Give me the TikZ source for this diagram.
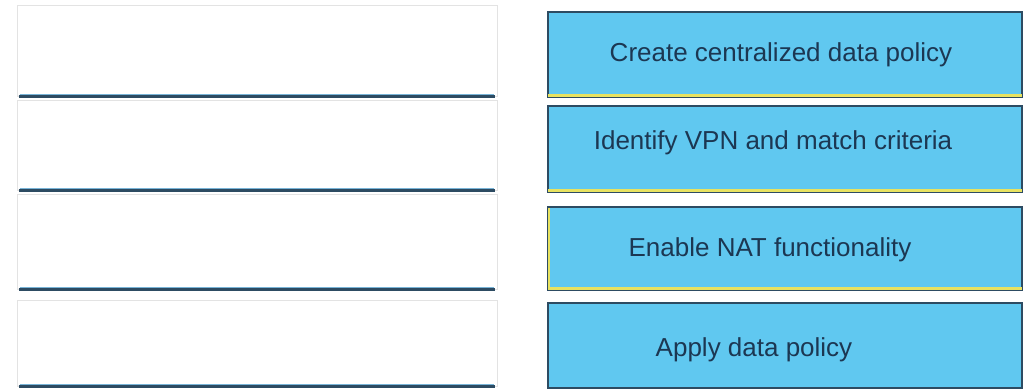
\documentclass[tikz,border=0pt]{standalone}
\usepackage{fontspec}
\setmainfont{Liberation Sans}
\definecolor{boxfill}{RGB}{96,200,240}
\definecolor{boxedge}{RGB}{45,75,98}
\definecolor{txt}{RGB}{28,55,82}
\definecolor{ylw}{RGB}{232,226,96}
\definecolor{barlight}{RGB}{120,180,215}
\begin{document}
\begin{tikzpicture}[x=1pt,y=-1pt,
  slot/.style={draw=gray!22,line width=0.6pt,fill=white,minimum width=480pt,inner sep=0pt},
  item/.style={draw=boxedge,line width=1.4pt,fill=boxfill,minimum width=474pt,inner sep=0pt},
  lbl/.style={text=txt,font=\fontsize{26}{30}\selectfont},
  bar/.style={line width=3.5pt,draw=boxedge},
  ybar/.style={line width=3pt,draw=ylw}]
\fill[white] (0,0) rectangle (1026,390);
\useasboundingbox (0,0) rectangle (1026,390);
% left slots
\node[slot,minimum height=91pt] (s1) at (257,50.5) {};
\node[slot,minimum height=90pt] (s2) at (257,145) {};
\node[slot,minimum height=95pt] (s3) at (257,241.5) {};
\node[slot,minimum height=86pt] (s4) at (257,343) {};
\foreach \s in {s1,s2,s3,s4}{
  \draw[bar] ([xshift=2pt]\s.south west) -- ([xshift=-2pt]\s.south east);
  \draw[line width=1pt,draw=barlight] ([xshift=3pt,yshift=2pt]\s.south west) -- ([xshift=-3pt,yshift=2pt]\s.south east);
}
% right boxes
\node[item,minimum height=85pt] (b1) at (785,54.5) {};
\node[item,minimum height=86pt] (b2) at (785,149) {};
\node[item,minimum height=83pt] (b3) at (785,248.5) {};
\node[item,minimum height=85pt] (b4) at (785,345.5) {};
\foreach \b in {b1,b2,b3}{
  \draw[ybar] ([xshift=1pt,yshift=2.6pt]\b.south west) -- ([xshift=-1pt,yshift=2.6pt]\b.south east);
}
\draw[ybar,line width=1.6pt] ([xshift=1.6pt,yshift=-2pt]b3.north west) -- ([xshift=1.6pt,yshift=2pt]b3.south west);
\node[lbl] (t1) at (781,55) {Create centralized data policy};
\node[lbl] (t2) at (773,143) {Identify VPN and match criteria};
\node[lbl] (t3) at (770,250) {Enable NAT functionality};
\node[lbl] (t4) at (754,350) {Apply data policy};
\end{tikzpicture}
\end{document}
